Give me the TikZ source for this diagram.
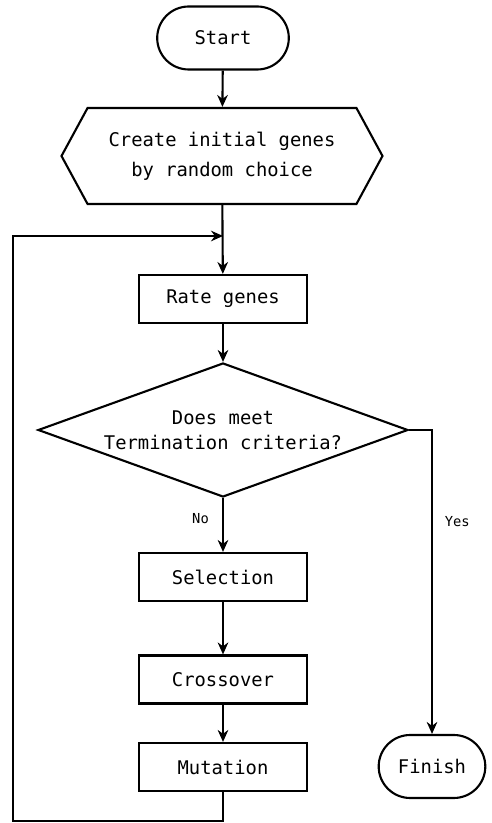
\documentclass[tikz,border=0pt]{standalone}
\usepackage{fontspec}
\setmonofont{DejaVu Sans Mono}
\usetikzlibrary{shapes.geometric, shapes.misc, shapes.symbols, arrows.meta}

\begin{document}
\begin{tikzpicture}[every node/.style={font=\ttfamily\fontsize{13.4}{19}\selectfont},
    box/.style={rectangle, draw, line width=1.5pt, minimum width=4.2cm, minimum height=1.2cm},
    term/.style={rounded rectangle, draw, line width=1.5pt, minimum height=1.575cm}]
    \fill [white] (0,0) rectangle (12.3,20.575);
    \useasboundingbox (0,0) rectangle (12.3,20.575);
    \begin{scope}

        \begin{scope}
          \node [term, minimum width=3.525cm] (0) at (5.575,19.625) {Start};
          \node [signal, signal to=east and west, signal pointer angle=123, draw, line width=1.5pt,
                 minimum width=8.025cm, minimum height=2.4cm, align=center,
                 font=\ttfamily\fontsize{13.4}{21.3}\selectfont] (1) at (5.55,16.675) {Create initial genes\\by random choice};
          \node [box] (2) at (5.575,13.1) {Rate genes};
          \node [diamond, aspect=2.76, draw, line width=1.5pt, inner sep=0pt, minimum width=9.25cm, minimum height=3.35cm,
                 align=center, font=\ttfamily\fontsize{13.4}{17.8}\selectfont] (3) at (5.575,9.825) {Does meet\\Termination criteria?};
          \node [box] (4) at (5.575,6.15) {Selection};
          \node [box] (5) at (5.575,3.5875) {Crossover};
          \node [box] (6) at (5.575,1.4) {Mutation};
          \node [term, minimum width=2.9cm] (7) at (10.8,1.4125) {Finish};
          \coordinate (j) at (5.575,14.675);
          \coordinate (c) at (0.325,0.05);
        \end{scope}

        \begin{scope}[->, >={Stealth[length=8.5pt, width=7.5pt]}, line width=1.5pt]
          \draw (0) to (1);
          \draw (1) to (2);
          \draw (2) to (3);
          \draw (3) to node [pos=0.375, left=6pt, font=\ttfamily\fontsize{9.8}{12}\selectfont] {No} (4);
          \draw (4) to (5);
          \draw (5) to (6);
          \draw (3.east) -| node [pos=0.65, right=5pt, font=\ttfamily\fontsize{9.8}{12}\selectfont] {Yes} (7);
          \draw (6.south) |- (c) |- (j);
        \end{scope}
      \end{scope}

  \end{tikzpicture}
\end{document}
